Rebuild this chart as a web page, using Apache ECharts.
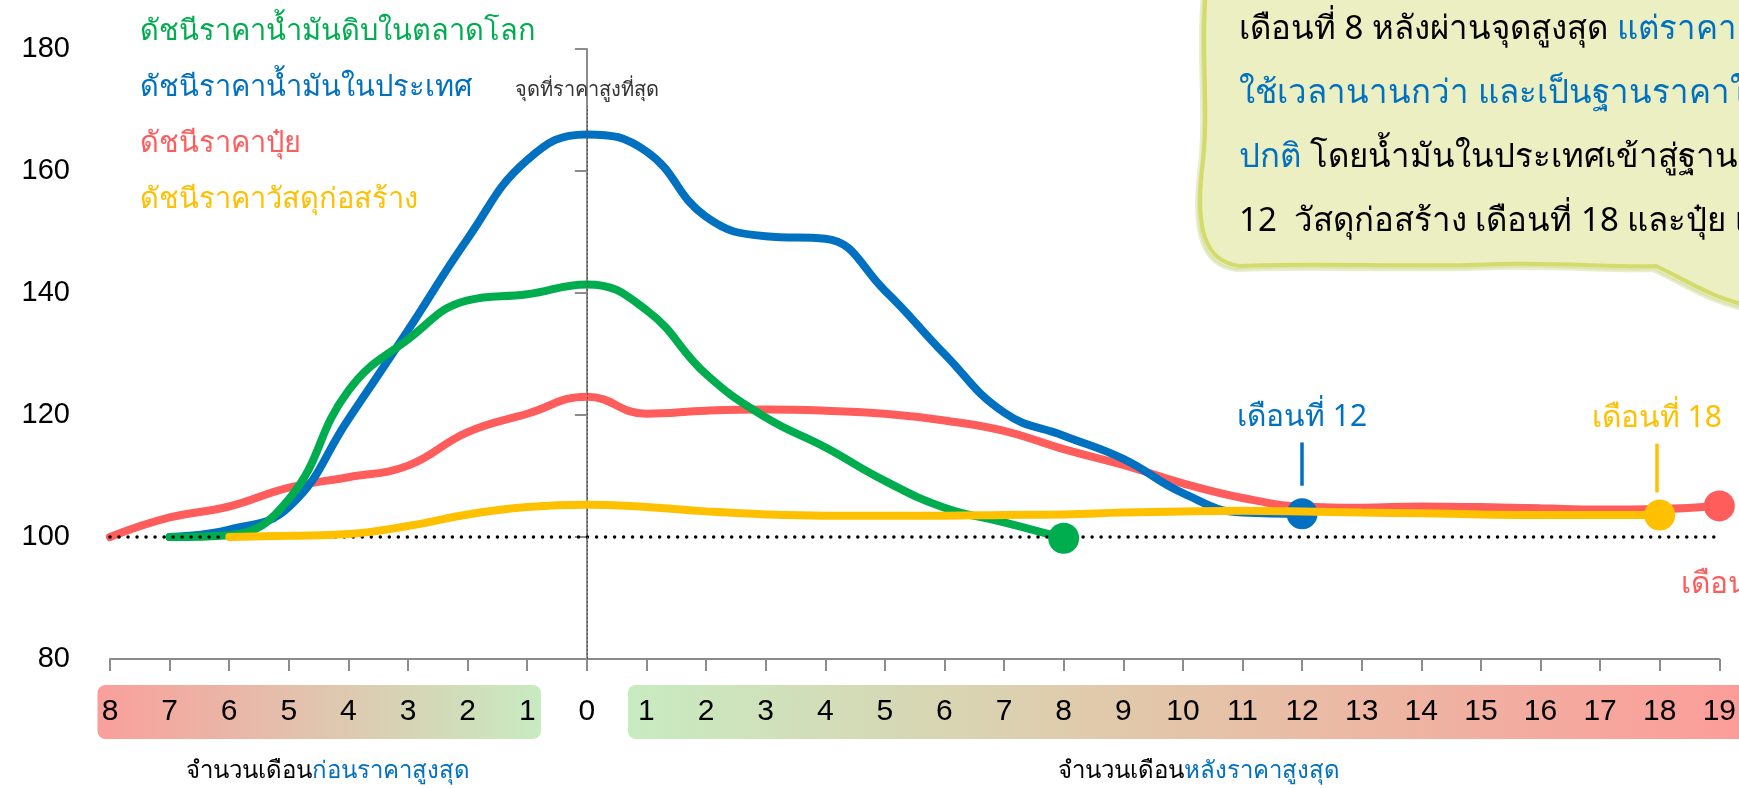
<!DOCTYPE html>
<html><head><meta charset="utf-8">
<script src="https://cdn.jsdelivr.net/npm/echarts@6/dist/echarts.min.js"></script>
<style>html,body{margin:0;padding:0;background:#fff;overflow:hidden}#c{width:1739px;height:788px}</style>
</head><body><div id="c"></div>
<script>
// ---- data ----
const months = [-8,-7,-6,-5,-4,-3,-2,-1,0,1,2,3,4,5,6,7,8,9,10,11,12,13,14,15,16,17,18,19];
const seriesNames = ['ดัชนีราคาน้ำมันดิบในตลาดโลก','ดัชนีราคาน้ำมันในประเทศ','ดัชนีราคาปุ๋ย','ดัชนีราคาวัสดุก่อสร้าง'];
const crudeOil = [null,100,100.3,106.2,124,132.4,138.8,139.8,141.4,137.2,126.7,119.6,114.7,109.2,104.8,102.4,99.8,
  null,null,null,null,null,null,null,null,null,null,null];
const domesticOil = [null,100,101.2,104.9,119.3,133.9,148.9,161.8,166,163.2,152.5,149.3,148.9,140.4,130,120.4,116.6,112.8,107.2,104,103.8,
  null,null,null,null,null,null,null];
const fertilizer = [100,103.2,105,108.1,109.8,111.7,117.2,120.2,123,120.2,120.7,120.9,120.7,120.2,119.1,117.4,114.4,111.8,108.8,106.4,105,104.8,105,104.9,104.7,104.5,104.6,105.1];
const construction = [null,null,100,100.2,100.5,101.8,103.7,104.9,105.3,104.9,104.2,103.7,103.5,103.5,103.5,103.6,103.7,104,104.2,104.3,104.2,104,103.9,103.7,103.6,103.6,103.6,null];
const yTicks = [80,100,120,140,160,180];
const peakLabel = 'จุดที่ราคาสูงที่สุด';
const endLabels = ['เดือนที่ 12','เดือนที่ 18','เดือนที่ 19'];
const axisTitleBefore = ['จำนวนเดือน','ก่อนราคาสูงสุด'];
const axisTitleAfter = ['จำนวนเดือน','หลังราคาสูงสุด'];
const noteLines = [
  [['k','เดือนที่ 8 หลังผ่านจุดสูงสุด '],['b','แต่ราคาสินค้าอื่นๆ']],
  [['b','ใช้เวลานานกว่า และเป็นฐานราคาใหม่']],
  [['b','ปกติ'],['k',' โดยน้ำมันในประเทศเข้าสู่ฐานใหม่']],
  [['k','12  วัสดุก่อสร้าง เดือนที่ 18 และปุ๋ย เดือนที่ 19']]
];

const C = {green:'#00ad4e', blue:'#0070c0', red:'#ff5c5c', yellow:'#ffc000'};
const FONT = "'Noto Sans','DejaVu Sans',sans-serif";
const NUMFONT = "'Liberation Sans',Arial,sans-serif";

function pairs(vals){ return months.map((m,i)=> vals[i]==null ? null : [m, vals[i]]).filter(Boolean); }
function last(vals){ const p = pairs(vals); return p[p.length-1]; }

// speech-bubble outline (decoration)
echarts.graphic.registerShape('noteBubble', echarts.graphic.extendPath(
  'M1206 -10 C1200 50 1210 110 1202 170 C1196 225 1203 262 1240 266 C1320 262 1420 268 1500 264 C1560 262 1620 268 1656 266 C1690 282 1712 298 1750 306 L1750 -10 Z', {}));

const chart = echarts.init(document.getElementById('c'), null, {renderer:'canvas'});

function lineSeries(name, vals, color, z, extra){
  const end = last(vals);
  return Object.assign({
    name, type:'line', data: pairs(vals), smooth:0.45, showSymbol:false, z,
    lineStyle:{color, width:8, cap:'round'}, itemStyle:{color},
    markPoint:{symbol:'circle', symbolSize:31, silent:true, itemStyle:{color},
      label:{show:false}, data:[{coord:end}]}
  }, extra||{});
}

const option = {
  animation:false,
  textStyle:{fontFamily:FONT},
  grid:{left:110, right:11, top:49, bottom:129, containLabel:false},
  legend:{
    orient:'vertical', left:130, top:12, itemWidth:0, itemHeight:0, itemGap:27,
    icon:'rect', selectedMode:false,
    textStyle:{fontSize:29, fontFamily:FONT},
    data:[
      {name:seriesNames[0], textStyle:{color:C.green}},
      {name:seriesNames[1], textStyle:{color:C.blue}},
      {name:seriesNames[2], textStyle:{color:C.red}},
      {name:seriesNames[3], textStyle:{color:C.yellow}}
    ]
  },
  xAxis:{
    type:'value', min:-8, max:19, interval:1,
    axisLine:{lineStyle:{color:'#8c8c8c', width:2}},
    axisTick:{show:true, length:12, lineStyle:{color:'#8c8c8c', width:2}},
    splitLine:{show:false},
    axisLabel:{margin:38, fontSize:30, color:'#000', fontFamily:NUMFONT,
      formatter:v=>String(Math.abs(v))}
  },
  yAxis:{
    type:'value', min:80, max:180, interval:20,
    axisLine:{show:true, lineStyle:{color:'#8c8c8c', width:2}},
    axisTick:{show:true, length:12, lineStyle:{color:'#8c8c8c', width:2}},
    splitLine:{show:false},
    axisLabel:{margin:40, fontSize:29, color:'#000', fontFamily:NUMFONT}
  },
  series:[
    lineSeries(seriesNames[2], fertilizer, C.red, 2, {
      markPoint:{symbol:'circle', symbolSize:31, silent:true, itemStyle:{color:C.red},
        data:[{coord:last(fertilizer), label:{show:true, formatter:endLabels[2], color:C.red, fontSize:30,
          position:'inside', offset:[-38,79], align:'left', verticalAlign:'middle', fontFamily:FONT}}]}
    }),
    lineSeries(seriesNames[1], domesticOil, C.blue, 3, {
      markLine:{silent:true, symbol:'none', lineStyle:{color:C.blue, width:3.5, type:'solid'},
        label:{show:true, position:'start', formatter:endLabels[0], color:C.blue, fontSize:30, fontFamily:FONT, distance:10},
        data:[[{coord:[12,115.5]},{coord:[12,108.4]}]]}
    }),
    lineSeries(seriesNames[0], crudeOil, C.green, 4),
    lineSeries(seriesNames[3], construction, C.yellow, 5, {
      markLine:{silent:true, symbol:'none', lineStyle:{color:C.yellow, width:3.5, type:'solid'},
        label:{show:true, position:'start', formatter:endLabels[1], color:C.yellow, fontSize:30, fontFamily:FONT, distance:10},
        data:[[{coord:[17.95,115.3]},{coord:[17.95,107.3]}]]}
    }),
    {
      name:'ref', type:'line', data:[], z:8, silent:true,
      markLine:{silent:true, symbol:'none', animation:false,
        data:[
          [{coord:[-8,100], lineStyle:{color:'#000', width:3.5, type:[0.01,9], cap:'round'}},{coord:[19,100]}],
          [{coord:[0,80], lineStyle:{color:'#555', width:1, type:[2,2]},
            label:{show:true, position:'end', formatter:peakLabel, color:'#333', fontSize:20, fontFamily:FONT, distance:6}},
           {coord:[0,170.6]}]
        ],
        label:{show:false}
      }
    }
  ]
};
chart.setOption(option);

// ---- decorations: label bands, axis titles, note bubble ----
const px = (m)=> chart.convertToPixel({xAxisIndex:0, yAxisIndex:0}, [m, 80])[0];
const bandTop = 685, bandH = 54;
const lb0 = px(-8.21), lb1 = px(-0.77), rb0 = px(0.69);
const W = 1739;
const richNote = {k:{fill:'#000', fontSize:33, fontFamily:FONT}, b:{fill:C.blue, fontSize:33, fontFamily:FONT}};
const richTitle = {k:{fill:'#000', fontSize:24, fontFamily:FONT}, b:{fill:C.blue, fontSize:24, fontFamily:FONT}};
const noteText = noteLines.map(l=> l.map(([s,t])=>'{'+s+'|'+t+'}').join('')).join('\n');

chart.setOption({graphic:[
  {type:'rect', z:-1, shape:{x:lb0, y:bandTop, width:lb1-lb0, height:bandH, r:8},
   style:{fill:new echarts.graphic.LinearGradient(0,0,1,0,[{offset:0,color:'#f99f9b'},{offset:1,color:'#c8ebc1'}])}},
  {type:'rect', z:-1, shape:{x:rb0, y:bandTop, width:W+20-rb0, height:bandH, r:8},
   style:{fill:new echarts.graphic.LinearGradient(0,0,1,0,[{offset:0,color:'#c8ebc1'},{offset:0.47,color:'#e3c6a9'},{offset:1,color:'#fd9b99'}])}},
  {type:'text', x:px(-4.35), y:771, style:{
     text:'{k|'+axisTitleBefore[0]+'}{b|'+axisTitleBefore[1]+'}', align:'center', verticalAlign:'middle', rich:richTitle}},
  {type:'text', x:px(10.27), y:771, style:{
     text:'{k|'+axisTitleAfter[0]+'}{b|'+axisTitleAfter[1]+'}', align:'center', verticalAlign:'middle', rich:richTitle}},
  {type:'noteBubble', z:10, shape:{},
   style:{fill:'#ebefc1', stroke:'#d3db6b', lineWidth:4, shadowColor:'rgba(210,219,150,0.5)', shadowOffsetX:-3, shadowOffsetY:4, shadowBlur:0}},
  {type:'text', z:11, x:1239, y:-2, style:{text:noteText, rich:richNote, lineHeight:64, verticalAlign:'top', fontSize:33, fontFamily:FONT}}
]});
</script></body></html>
